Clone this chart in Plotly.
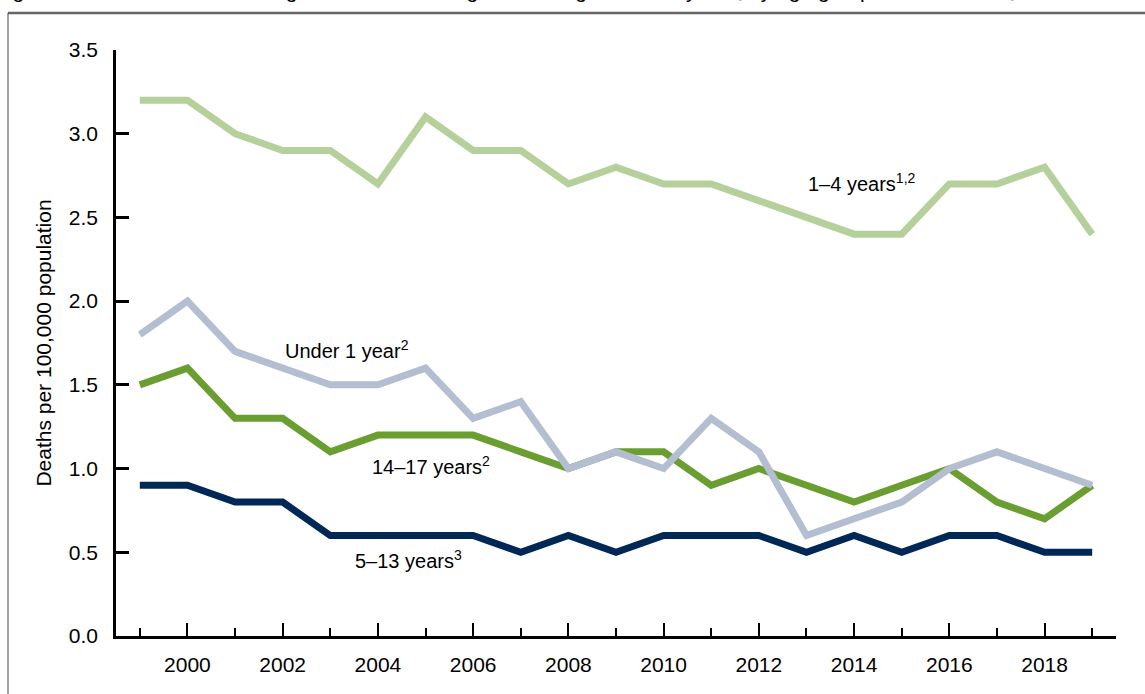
import plotly.graph_objects as go

years = list(range(1999, 2020))
age_1_4 = [3.2, 3.2, 3.0, 2.9, 2.9, 2.7, 3.1, 2.9, 2.9, 2.7, 2.8, 2.7, 2.7, 2.6, 2.5, 2.4, 2.4, 2.7, 2.7, 2.8, 2.4]
under_1 = [1.8, 2.0, 1.7, 1.6, 1.5, 1.5, 1.6, 1.3, 1.4, 1.0, 1.1, 1.0, 1.3, 1.1, 0.6, 0.7, 0.8, 1.0, 1.1, 1.0, 0.9]
age_14_17 = [1.5, 1.6, 1.3, 1.3, 1.1, 1.2, 1.2, 1.2, 1.1, 1.0, 1.1, 1.1, 0.9, 1.0, 0.9, 0.8, 0.9, 1.0, 0.8, 0.7, 0.9]
age_5_13 = [0.9, 0.9, 0.8, 0.8, 0.6, 0.6, 0.6, 0.6, 0.5, 0.6, 0.5, 0.6, 0.6, 0.6, 0.5, 0.6, 0.5, 0.6, 0.6, 0.5, 0.5]

series = [
    ("1–4 years", age_1_4, "#b5d09a"),
    ("14–17 years", age_14_17, "#6a9e30"),
    ("Under 1 year", under_1, "#b3bfd0"),
    ("5–13 years", age_5_13, "#002856"),
]

FONT = "Liberation Sans, Arial, sans-serif"

fig = go.Figure()
for name, vals, color in series:
    fig.add_trace(go.Scatter(x=years, y=vals, mode="lines", name=name,
                             line=dict(color=color, width=7), showlegend=False))

labels = [
    (2013.0, 2.71, "1–4 years<sup>1,2</sup>"),
    (2002.0, 1.71, "Under 1 year<sup>2</sup>"),
    (2003.83, 1.016, "14–17 years<sup>2</sup>"),
    (2003.48, 0.454, "5–13 years<sup>3</sup>"),
]
for x, y, t in labels:
    fig.add_annotation(x=x, y=y, text=t, showarrow=False, xanchor="left", yanchor="middle",
                       font=dict(family=FONT, size=20, color="#000000"))

# cut-off figure title at top of page
fig.add_annotation(xref="paper", yref="paper", x=-0.1235, y=1.0777, xanchor="left", yanchor="bottom",
                   text="Figure 2. Unintentional drowning death rates among children aged 0 to 17 years, by age group: United States, 1999–2019",
                   showarrow=False, font=dict(family=FONT, size=21, color="#000000"))

# frame lines
fig.add_shape(type="line", xref="paper", yref="paper", x0=-0.108, x1=1.05, y0=1.0631, y1=1.0631,
              line=dict(color="#666666", width=2.5))
fig.add_shape(type="line", xref="paper", yref="paper", x0=-0.108, x1=-0.108, y0=1.0631, y1=-0.12,
              line=dict(color="#444444", width=1))

fig.update_layout(
    width=1145, height=694,
    margin=dict(l=116, r=29, t=50, b=58),
    paper_bgcolor="white", plot_bgcolor="white",
    font=dict(family=FONT, size=21, color="#000000"),
    xaxis=dict(range=[1998.5, 2019.5], tickmode="linear", tick0=2000, dtick=2,
               ticks="inside", ticklen=13, tickwidth=2, tickcolor="black",
               showline=True, linecolor="black", linewidth=2.5, showgrid=False, zeroline=False,
               ticklabelstandoff=8,
               minor=dict(tickmode="linear", tick0=1999, dtick=2, ticks="inside", ticklen=8,
                          tickwidth=2, tickcolor="black", showgrid=False),
               tickfont=dict(family=FONT, size=21)),
    yaxis=dict(range=[0, 3.5], tickmode="linear", tick0=0, dtick=0.5, tickformat=".1f",
               ticks="inside", ticklen=13, tickwidth=2.5, tickcolor="black",
               showline=True, linecolor="black", linewidth=2.5, showgrid=False, zeroline=False,
               ticklabelstandoff=11,
               title=dict(text="Deaths per 100,000 population", standoff=12,
                          font=dict(family=FONT, size=21)),
               tickfont=dict(family=FONT, size=21)),
)

fig.write_html("out.html", config={"displayModeBar": False},
               post_script="document.body.style.margin='0';document.body.style.overflow='hidden';")
